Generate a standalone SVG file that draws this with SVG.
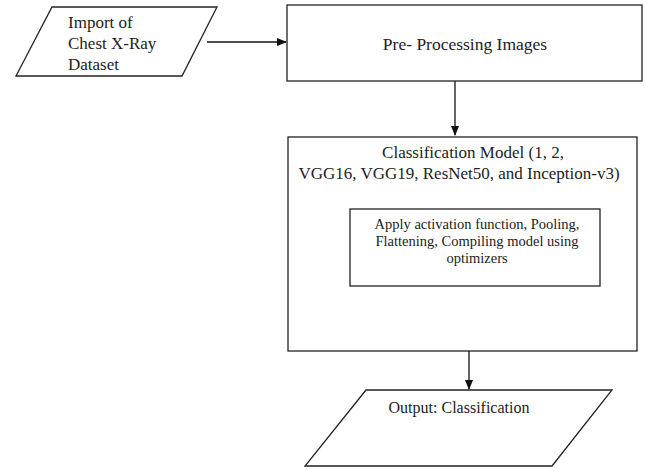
<svg xmlns="http://www.w3.org/2000/svg" width="646" height="469" viewBox="0 0 646 469">
<defs>
<style>
.s{fill:#fff;stroke:#222;stroke-width:1.3}
.t{font-family:"Liberation Serif",serif;fill:#222}
.c{stroke:#111;stroke-width:1.3;fill:none}
</style>
<marker id="a" markerWidth="10" markerHeight="10" refX="9" refY="5" orient="auto" markerUnits="userSpaceOnUse">
<path d="M0,1 L10,5 L0,9 Z" fill="#111"/>
</marker>
</defs>
<rect width="646" height="469" fill="#fff"/>
<g id="connectors">
<line class="c" x1="207" y1="42" x2="286" y2="42" marker-end="url(#a)"/>
<line class="c" x1="455" y1="81" x2="455" y2="135" marker-end="url(#a)"/>
<line class="c" x1="469" y1="351" x2="469" y2="389" marker-end="url(#a)"/>
</g>
<g id="import">
<polygon class="s" points="52,7 217,7 182,76 16,76"/>
<text class="t" font-size="17" x="68" y="28">Import of</text>
<text class="t" font-size="17" x="68" y="49">Chest X-Ray</text>
<text class="t" font-size="17" x="68" y="70">Dataset</text>
</g>
<g id="preprocess">
<rect class="s" x="287" y="5" width="355" height="76"/>
<text class="t" font-size="17.5" x="465" y="50" text-anchor="middle">Pre- Processing Images</text>
</g>
<g id="classification">
<rect class="s" x="288" y="137" width="349" height="214"/>
<text class="t" font-size="17" x="473" y="158" text-anchor="middle">Classification Model (1, 2,</text>
<text class="t" font-size="17" x="459" y="179" text-anchor="middle">VGG16, VGG19, ResNet50, and Inception-v3)</text>
</g>
<g id="inner">
<rect class="s" x="350" y="209" width="250" height="77"/>
<text class="t" font-size="14.5" x="477" y="229" text-anchor="middle">Apply activation function, Pooling,</text>
<text class="t" font-size="14.5" x="477" y="246" text-anchor="middle">Flattening, Compiling model using</text>
<text class="t" font-size="14.5" x="477" y="263" text-anchor="middle">optimizers</text>
</g>
<g id="output">
<polygon class="s" points="366,390 612,390 552,466 305,466"/>
<text class="t" font-size="16" x="459" y="413" text-anchor="middle">Output: Classification</text>
</g>
</svg>
